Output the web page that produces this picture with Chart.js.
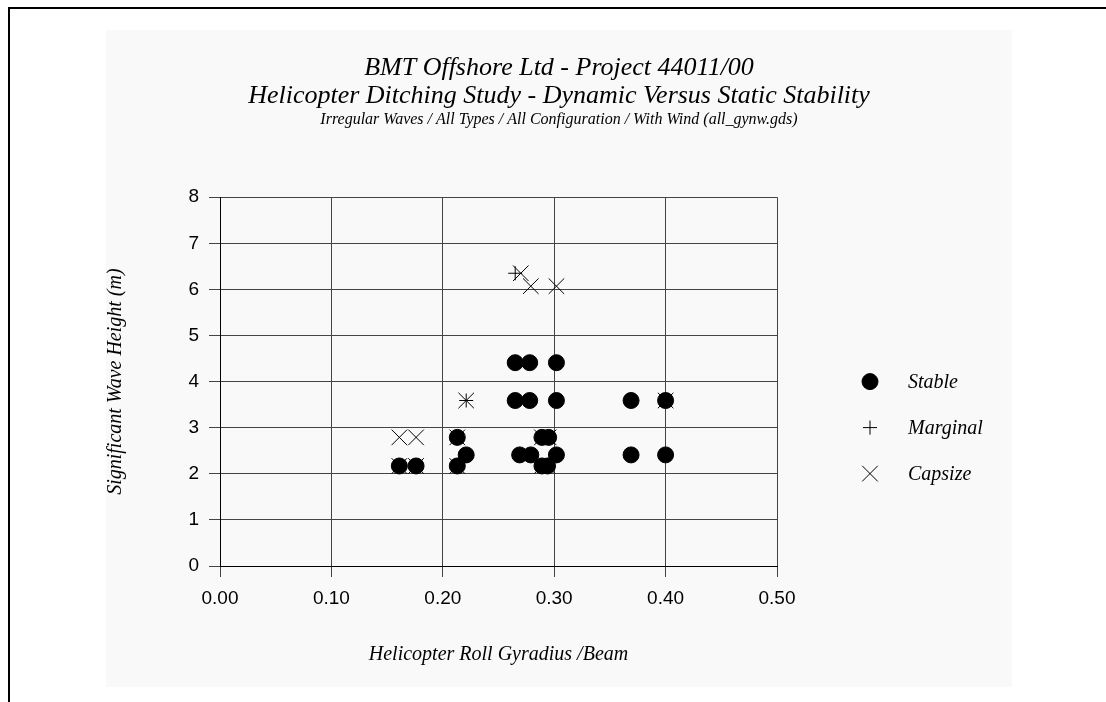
<!DOCTYPE html>
<html>
<head>
<meta charset="utf-8">
<title>Helicopter Ditching Study</title>
<script src="https://cdn.jsdelivr.net/npm/chart.js@4.4.0/dist/chart.umd.min.js"></script>
<style>
  body { margin: 0; background: #fff; width: 1106px; height: 702px; overflow: hidden; position: relative; }
  .frame-top { position: absolute; left: 8px; top: 7px; width: 1098px; height: 2px; background: #000; }
  .frame-left { position: absolute; left: 8px; top: 7px; width: 2px; height: 695px; background: #000; }
  #panel { position: absolute; left: 106px; top: 30px; width: 906px; height: 657px; background: #f9f9f9; }
</style>
</head>
<body>
<div class="frame-top"></div>
<div class="frame-left"></div>
<div id="panel"><canvas id="stability"></canvas></div>
<script>
// Roll gyradius / beam against significant wave height, per outcome
const stableX = [0.161, 0.176, 0.213, 0.213, 0.221, 0.265, 0.278, 0.302, 0.265, 0.278, 0.302,
                 0.269, 0.279, 0.302, 0.289, 0.295, 0.289, 0.294, 0.369, 0.400, 0.369, 0.400];
const stableY = [2.17, 2.17, 2.79, 2.17, 2.41, 4.41, 4.41, 4.41, 3.59, 3.59, 3.59,
                 2.41, 2.41, 2.41, 2.79, 2.79, 2.17, 2.17, 3.59, 3.59, 2.41, 2.41];

const marginalX = [0.265, 0.221];
const marginalY = [6.35, 3.59];

const capsizeX = [0.270, 0.279, 0.302, 0.221, 0.161, 0.176, 0.161, 0.176, 0.213, 0.213,
                  0.289, 0.295, 0.289, 0.294, 0.400];
const capsizeY = [6.35, 6.07, 6.07, 3.59, 2.79, 2.79, 2.17, 2.17, 2.79, 2.17,
                  2.79, 2.79, 2.17, 2.17, 3.59];

const seriesNames = ['Stable', 'Marginal', 'Capsize'];

const serif = "'Liberation Serif', 'Times New Roman', serif";
const sans = "'Liberation Sans', Arial, sans-serif";

function toPoints(xs, ys) {
  return xs.map((x, i) => ({ x: x, y: ys[i] }));
}

// legend drawn beside the plot, one row per dataset
const sideLegend = {
  id: 'sideLegend',
  afterDraw(chart) {
    const ctx = chart.ctx;
    const area = chart.chartArea;
    const rowY = (area.top + area.bottom) / 2;
    ctx.save();
    ctx.font = 'italic 20px ' + serif;
    ctx.textBaseline = 'middle';
    ctx.textAlign = 'left';
    chart.data.datasets.forEach((ds, i) => {
      const y = rowY + i * 46;
      const x = area.right + 93;
      ctx.strokeStyle = ds.borderColor;
      ctx.fillStyle = ds.backgroundColor;
      ctx.lineWidth = ds.borderWidth;
      Chart.helpers.drawPoint(ctx, {
        pointStyle: ds.pointStyle,
        radius: ds.pointRadius,
        borderWidth: ds.borderWidth,
        rotation: 0
      }, x, y);
      ctx.fillStyle = '#000';
      ctx.fillText(ds.label, area.right + 131, y + 1);
    });
    ctx.restore();
  }
};

new Chart(document.getElementById('stability'), {
  type: 'scatter',
  data: {
    datasets: [
      {
        label: seriesNames[0],
        data: toPoints(stableX, stableY),
        pointStyle: 'circle',
        pointRadius: 8,
        backgroundColor: '#000',
        borderColor: '#000',
        borderWidth: 1
      },
      {
        label: seriesNames[1],
        data: toPoints(marginalX, marginalY),
        pointStyle: 'cross',
        pointRadius: 7,
        backgroundColor: '#000',
        borderColor: '#000',
        borderWidth: 1
      },
      {
        label: seriesNames[2],
        data: toPoints(capsizeX, capsizeY),
        pointStyle: 'crossRot',
        pointRadius: 11,
        backgroundColor: '#000',
        borderColor: '#000',
        borderWidth: 1
      }
    ]
  },
  options: {
    responsive: true,
    maintainAspectRatio: false,
    animation: false,
    layout: { padding: 0 },
    plugins: {
      legend: { display: false },
      tooltip: { enabled: false },
      title: {
        display: true,
        text: ['BMT Offshore Ltd - Project 44011/00',
               'Helicopter Ditching Study - Dynamic Versus Static Stability'],
        color: '#000',
        font: { family: serif, size: 26, style: 'italic', weight: 'normal', lineHeight: 28 / 26 },
        padding: { top: 24, bottom: 0 }
      },
      subtitle: {
        display: true,
        text: 'Irregular Waves / All Types / All Configuration / With Wind (all_gynw.gds)',
        color: '#000',
        font: { family: serif, size: 16, style: 'italic', weight: 'normal', lineHeight: 1.2 },
        padding: { top: 0, bottom: 68 }
      }
    },
    scales: {
      x: {
        type: 'linear',
        min: 0,
        max: 0.5,
        afterFit(scale) { scale.height = 121; },
        ticks: {
          stepSize: 0.1,
          padding: 10,
          color: '#000',
          font: { family: sans, size: 19 },
          callback: v => v.toFixed(2)
        },
        grid: { color: '#444', lineWidth: 1, tickLength: 11 },
        border: { color: '#000', width: 1 },
        title: {
          display: true,
          text: 'Helicopter Roll Gyradius /Beam',
          color: '#000',
          font: { family: serif, size: 20, style: 'italic', lineHeight: 1.2 },
          padding: { top: 0, bottom: 20 }
        }
      },
      y: {
        type: 'linear',
        min: 0,
        max: 8,
        afterFit(scale) { scale.width = 114; },
        ticks: {
          stepSize: 1,
          padding: 10,
          color: '#000',
          font: { family: sans, size: 19 }
        },
        grid: { color: '#444', lineWidth: 1, tickLength: 11 },
        border: { color: '#000', width: 1 },
        title: {
          display: true,
          text: 'Significant Wave Height (m)',
          color: '#000',
          font: { family: serif, size: 20, style: 'italic', lineHeight: 1 },
          padding: 0
        }
      },
      // empty right-hand band that holds the legend
      side: {
        type: 'linear',
        position: 'right',
        display: true,
        afterFit(scale) { scale.width = 235; },
        grid: { display: false },
        ticks: { display: false },
        border: { display: false }
      }
    }
  },
  plugins: [sideLegend]
});
</script>
</body>
</html>
